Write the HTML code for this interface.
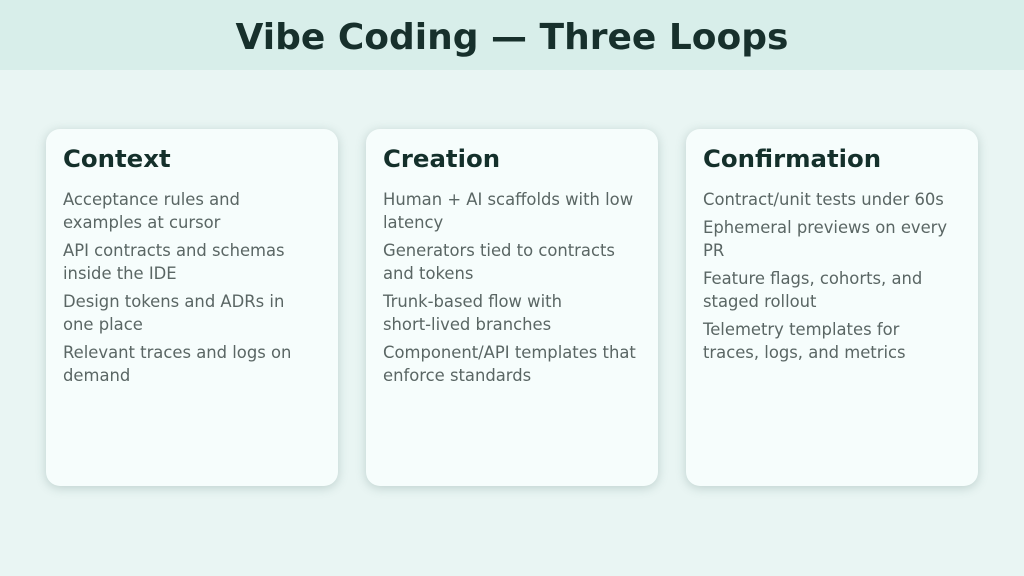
<!DOCTYPE html>
<html><head><meta charset="utf-8"><style>
html,body{margin:0;padding:0}
body{width:1024px;height:576px;background:#e9f5f3;font-family:"DejaVu Sans","Liberation Sans",sans-serif;position:relative;overflow:hidden}
.hdr{position:absolute;left:0;top:0;width:1024px;height:70px;background:#d8eeea;text-align:center;line-height:76px;font-size:36px;font-weight:bold;color:#17302c}
.card{position:absolute;top:129px;width:292px;height:357px;background:#f6fdfc;border-radius:14px;box-shadow:0 2px 10px rgba(60,100,95,0.25);box-sizing:border-box;padding:14px 17px}
.card h2{margin:0 0 13px 0;font-size:24.4px;font-weight:bold;color:#14302b;line-height:32px}
.card p{margin:0 0 5px 0;font-size:16.4px;line-height:23px;color:#5a6664}
</style></head><body>
<div class="hdr">Vibe Coding — Three Loops</div>
<div class="card" style="left:46px"><h2>Context</h2>
<p>Acceptance rules and<br>examples at cursor</p>
<p>API contracts and schemas<br>inside the IDE</p>
<p>Design tokens and ADRs in<br>one place</p>
<p>Relevant traces and logs on<br>demand</p></div>
<div class="card" style="left:366px"><h2>Creation</h2>
<p>Human + AI scaffolds with low<br>latency</p>
<p>Generators tied to contracts<br>and tokens</p>
<p>Trunk-based flow with<br>short-lived branches</p>
<p>Component/API templates that<br>enforce standards</p></div>
<div class="card" style="left:686px"><h2>Confirmation</h2>
<p>Contract/unit tests under 60s</p>
<p>Ephemeral previews on every<br>PR</p>
<p>Feature flags, cohorts, and<br>staged rollout</p>
<p>Telemetry templates for<br>traces, logs, and metrics</p></div>
</body></html>
